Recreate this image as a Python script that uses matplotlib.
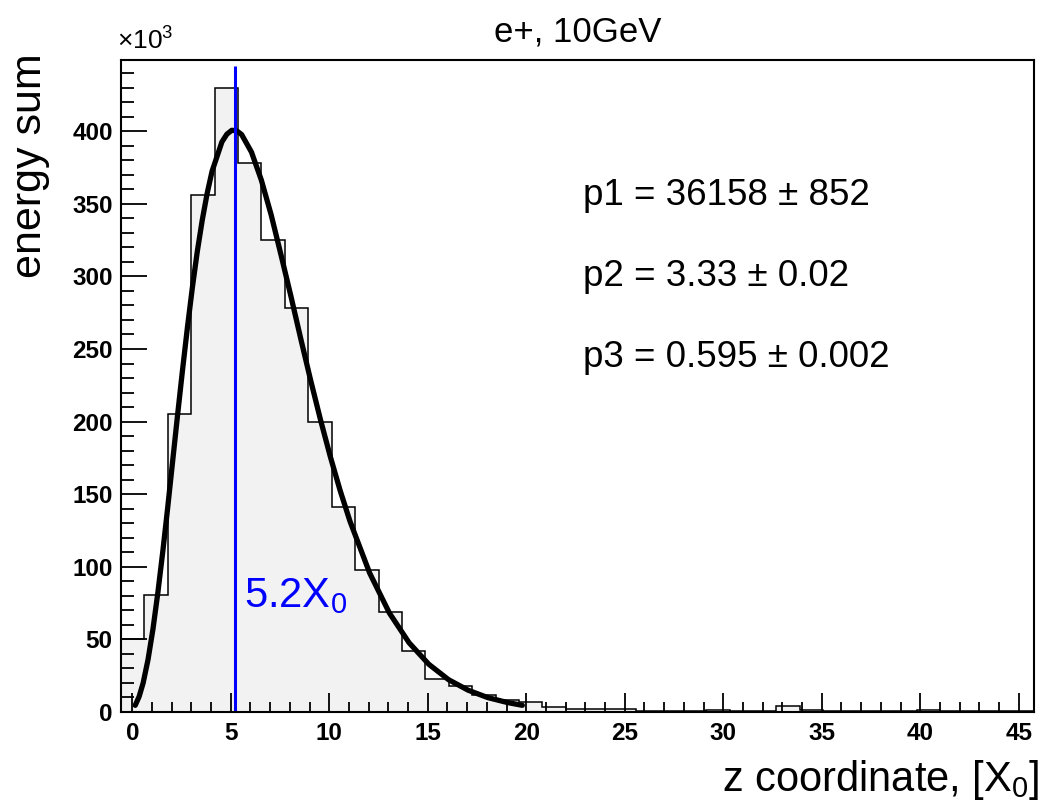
import numpy as np
import matplotlib
matplotlib.use('Agg')
import matplotlib.pyplot as plt
from matplotlib.ticker import MultipleLocator

plt.rcParams['font.family'] = ['Liberation Sans', 'DejaVu Sans']
plt.rcParams['mathtext.fontset'] = 'custom'
plt.rcParams['mathtext.rm'] = 'Liberation Sans'
plt.rcParams['mathtext.it'] = 'Liberation Sans:italic'

# histogram: energy sum per bin (x10^3), 39 bins
z_lo, z_hi = -0.57, 45.77
energy = [50.4, 80.5, 205, 356, 430, 378, 325, 278, 200, 141,
          98, 69, 42, 23, 18, 12, 8.3, 7.1, 3.2, 2.0,
          2.0, 1.8, 0.8, 0.8, 0.8, 1.5, 0.7, 0.7, 4.0, 1.6,
          0.6, 0.5, 0.5, 0.5, 1.5, 0.5, 0.5, 0.5, 0.5]

# fitted longitudinal profile (x10^3)
fit_z = [0.15, 0.35, 0.55, 0.8, 1.05, 1.3, 1.55, 1.8, 2.05, 2.3, 2.55, 2.8,
         3.05, 3.3, 3.55, 3.8, 4.05, 4.55, 4.8, 5.05, 5.3, 5.55, 6.05, 6.55,
         7.05, 7.55, 8.05, 8.55, 9.05, 9.55, 10.05, 10.55, 11.05, 12.05, 13.05, 14.05,
         15.05, 16.05, 17.05, 18.05, 19.05, 19.8]
fit_e = [4.6, 10.7, 19.9, 36.1, 57.1, 82.3, 110.6, 141.0, 172.8, 204.6, 235.4, 264.9,
         292.3, 317.1, 338.6, 357.1, 372.4, 392.6, 397.9, 400.6, 400.3, 397.7, 385.6, 366.4,
         342.4, 314.8, 286.5, 257.2, 228.7, 201.5, 176.0, 152.6, 131.4, 95.7, 68.2, 47.7,
         32.9, 22.3, 15.0, 9.9, 6.5, 4.6]

shower_max = 5.2
fit_pars = ['p1 = 36158 \u00b1 852', 'p2 = 3.33 \u00b1 0.02', 'p3 = 0.595 \u00b1 0.002']

edges = np.linspace(z_lo, z_hi, len(energy) + 1)

fig, ax = plt.subplots(figsize=(10.48, 8.09), dpi=100)
fig.subplots_adjust(left=0.1155, right=0.9866, bottom=0.1199, top=0.9258)

ax.stairs(energy, edges, fill=True, color='#f2f2f2')
ax.stairs(energy, edges, color='black', lw=1.1)
ax.plot(fit_z, fit_e, color='black', lw=3.8, solid_capstyle='round', solid_joinstyle='round')
ax.vlines(shower_max, 0, 445, color='#0000ff', lw=2.2)
ax.text(5.65, 72, r'5.2X$_0$', color='#0000ff', fontsize=30)

for i, s in enumerate(fit_pars):
    ax.text(22.9, 356 - i * 56, s, fontsize=26.5, va='center')

ax.set_xlim(z_lo, z_hi)
ax.set_ylim(0, 449)
ax.xaxis.set_major_locator(MultipleLocator(5))
ax.xaxis.set_minor_locator(MultipleLocator(1))
ax.yaxis.set_major_locator(MultipleLocator(50))
ax.yaxis.set_minor_locator(MultipleLocator(10))
ax.tick_params(axis='both', which='both', direction='in', top=False, right=False, width=1.3)
ax.tick_params(axis='y', which='major', length=19, pad=6)
ax.tick_params(axis='y', which='minor', length=9.5)
ax.tick_params(axis='x', which='major', length=14, pad=7)
ax.tick_params(axis='x', which='minor', length=7)
for lab in ax.get_xticklabels() + ax.get_yticklabels():
    lab.set_fontweight('bold')
    lab.set_fontsize(17.5)
for sp in ax.spines.values():
    sp.set_linewidth(1.5)

ax.text(-0.004, 1.008, r'$\times$10$^{3}$', transform=ax.transAxes, fontsize=19, ha='left', va='bottom')
fig.text(0.551, 0.960, 'e+, 10GeV', fontsize=25, ha='center', va='center')
fig.text(1040 / 1048, 1 - 780 / 809, r'z coordinate, [X$_0$]', fontsize=30, ha='right', va='center')
fig.text(30 / 1048, 1 - 53 / 809, 'energy sum', fontsize=31, rotation=90, ha='center', va='top')

plt.savefig('out.png', dpi=100)
